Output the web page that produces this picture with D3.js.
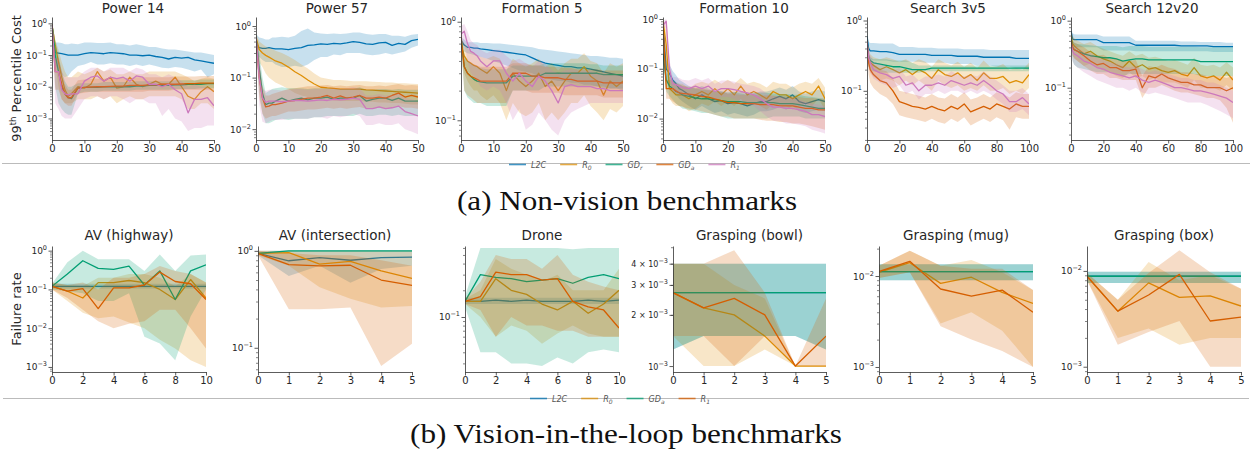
<!DOCTYPE html>
<html>
<head>
<meta charset="utf-8">
<script src="https://cdn.jsdelivr.net/npm/d3@7"></script>
<style>
  body { margin: 0; background: #fff; }
  svg { display: block; font-family: "DejaVu Sans", sans-serif; }
</style>
</head>
<body>
<div id="chart"></div>
<script>
// ---------- x grids ----------
const x50 = [0,1,2,3,4,5,6,8,10,12,14,16,18,20,22,24,26,28,30,32,34,36,38,40,42,44,46,48,50];
const x100 = [0,1,2,4,8,12,16,20,24,28,32,36,40,44,48,52,56,60,64,68,72,76,80,84,88,92,96,100];
const x10 = [0,1,2,3,4,5,6,7,8,9,10];
const x5 = [0,1,2,3,4,5];

// ---------- Power 14 ----------
const p14_l2c = [0.9,0.12,0.115,0.11,0.105,0.1,0.1,0.1,0.11,0.12,0.115,0.11,0.12,0.115,0.11,0.1,0.1,0.095,0.1,0.09,0.085,0.075,0.085,0.08,0.085,0.07,0.065,0.06,0.055];
const p14_l2c_lo = [0.7,0.05,0.03,0.025,0.02,0.022,0.03,0.045,0.05,0.06,0.05,0.05,0.055,0.05,0.05,0.045,0.05,0.045,0.05,0.045,0.04,0.038,0.042,0.04,0.035,0.03,0.035,0.02,0.025];
const p14_l2c_hi = [1.1,0.25,0.25,0.24,0.22,0.22,0.23,0.22,0.25,0.25,0.24,0.24,0.25,0.22,0.22,0.2,0.22,0.2,0.18,0.18,0.16,0.15,0.15,0.14,0.13,0.12,0.12,0.11,0.1];
const p14_r0 = [0.9,0.2,0.06,0.02,0.008,0.005,0.006,0.01,0.009,0.012,0.03,0.015,0.02,0.009,0.01,0.02,0.012,0.01,0.012,0.015,0.012,0.012,0.02,0.01,0.005,0.004,0.007,0.01,0.007];
const p14_r0_lo = [0.7,0.05,0.01,0.004,0.003,0.003,0.003,0.004,0.004,0.004,0.005,0.004,0.005,0.003,0.004,0.005,0.004,0.004,0.005,0.005,0.005,0.005,0.005,0.004,0.002,0.002,0.003,0.003,0.002];
const p14_r0_hi = [1.1,0.3,0.15,0.06,0.03,0.02,0.02,0.03,0.025,0.03,0.04,0.03,0.035,0.025,0.025,0.03,0.025,0.025,0.03,0.03,0.03,0.03,0.03,0.025,0.02,0.015,0.018,0.02,0.018];
const p14_gdr = [0.9,0.1,0.03,0.01,0.006,0.0045,0.0042,0.009,0.0095,0.0095,0.0095,0.01,0.01,0.01,0.01,0.01,0.0105,0.0105,0.011,0.011,0.011,0.011,0.0115,0.0115,0.012,0.012,0.012,0.0125,0.0125];
const p14_gdr_lo = [0.7,0.01,0.003,0.002,0.0015,0.0013,0.0013,0.006,0.007,0.007,0.007,0.0075,0.0075,0.0075,0.0075,0.0075,0.008,0.008,0.008,0.008,0.008,0.008,0.0085,0.0085,0.0085,0.0085,0.009,0.009,0.009];
const p14_gdr_hi = [1.1,0.3,0.1,0.03,0.015,0.01,0.01,0.013,0.013,0.013,0.013,0.014,0.014,0.014,0.014,0.014,0.015,0.015,0.015,0.015,0.015,0.015,0.016,0.016,0.016,0.016,0.017,0.017,0.017];
const p14_gda = [0.9,0.03,0.03,0.012,0.006,0.0045,0.0045,0.009,0.0095,0.0098,0.01,0.01,0.0103,0.0105,0.0105,0.011,0.011,0.011,0.0115,0.0115,0.012,0.012,0.012,0.0122,0.0125,0.0125,0.013,0.013,0.013];
const p14_gda_lo = [0.7,0.008,0.008,0.004,0.003,0.0025,0.0025,0.006,0.0065,0.007,0.007,0.007,0.007,0.007,0.007,0.007,0.007,0.007,0.0075,0.0075,0.0075,0.0075,0.008,0.008,0.008,0.008,0.008,0.008,0.008];
const p14_gda_hi = [1.1,0.08,0.08,0.03,0.012,0.008,0.008,0.016,0.017,0.018,0.018,0.018,0.019,0.019,0.019,0.019,0.02,0.02,0.02,0.02,0.02,0.02,0.021,0.021,0.021,0.021,0.022,0.022,0.022];
const p14_r1 = [0.9,0.03,0.03,0.008,0.006,0.0055,0.006,0.006,0.015,0.02,0.022,0.015,0.02,0.018,0.02,0.015,0.022,0.02,0.012,0.012,0.01,0.012,0.008,0.006,0.0015,0.004,0.004,0.0045,0.0025];
const p14_r1_lo = [0.7,0.003,0.002,0.0012,0.001,0.001,0.001,0.002,0.004,0.005,0.005,0.004,0.005,0.005,0.004,0.003,0.004,0.004,0.003,0.003,0.0012,0.002,0.001,0.0008,0.0004,0.0005,0.0005,0.0006,0.0006];
const p14_r1_hi = [1.1,0.08,0.08,0.03,0.02,0.02,0.02,0.02,0.03,0.04,0.04,0.03,0.04,0.04,0.04,0.03,0.04,0.035,0.025,0.025,0.02,0.025,0.02,0.015,0.01,0.012,0.01,0.01,0.008];

// ---------- Power 57 ----------
const p57_l2c = [0.45,0.38,0.37,0.37,0.38,0.37,0.36,0.36,0.35,0.37,0.38,0.42,0.43,0.45,0.44,0.46,0.45,0.47,0.5,0.48,0.45,0.44,0.47,0.48,0.42,0.46,0.44,0.52,0.55];
const p57_l2c_lo = [0.3,0.25,0.22,0.2,0.2,0.2,0.18,0.16,0.16,0.17,0.16,0.18,0.22,0.25,0.25,0.28,0.27,0.3,0.3,0.3,0.28,0.27,0.28,0.3,0.28,0.3,0.32,0.38,0.42];
const p57_l2c_hi = [0.7,0.6,0.58,0.55,0.55,0.6,0.6,0.62,0.6,0.65,0.8,0.9,0.75,0.72,0.7,0.72,0.7,0.72,0.75,0.75,0.7,0.68,0.7,0.7,0.65,0.65,0.62,0.68,0.7];
const p57_r0 = [0.6,0.35,0.3,0.27,0.25,0.23,0.21,0.19,0.16,0.13,0.11,0.09,0.075,0.065,0.063,0.062,0.06,0.06,0.06,0.06,0.058,0.057,0.056,0.055,0.054,0.053,0.052,0.051,0.05];
const p57_r0_lo = [0.5,0.2,0.16,0.12,0.1,0.09,0.08,0.07,0.06,0.05,0.045,0.042,0.04,0.038,0.038,0.036,0.035,0.035,0.035,0.035,0.034,0.034,0.033,0.033,0.032,0.032,0.031,0.03,0.03];
const p57_r0_hi = [0.7,0.5,0.45,0.4,0.38,0.36,0.33,0.3,0.26,0.22,0.18,0.15,0.12,0.1,0.095,0.09,0.09,0.088,0.085,0.085,0.085,0.083,0.082,0.08,0.08,0.078,0.078,0.076,0.075];
const p57_gdr = [0.6,0.15,0.05,0.03,0.032,0.032,0.035,0.04,0.035,0.038,0.04,0.037,0.04,0.04,0.042,0.038,0.04,0.04,0.04,0.045,0.035,0.038,0.04,0.04,0.036,0.04,0.035,0.035,0.035];
const p57_gdr_lo = [0.5,0.05,0.02,0.013,0.013,0.014,0.015,0.016,0.015,0.016,0.016,0.016,0.017,0.017,0.018,0.018,0.018,0.018,0.018,0.02,0.018,0.018,0.019,0.019,0.018,0.019,0.018,0.018,0.018];
const p57_gdr_hi = [0.7,0.3,0.1,0.05,0.055,0.06,0.062,0.065,0.062,0.062,0.062,0.06,0.062,0.062,0.062,0.06,0.06,0.06,0.06,0.065,0.058,0.058,0.06,0.06,0.058,0.06,0.058,0.058,0.058];
const p57_gda = [0.6,0.1,0.04,0.027,0.028,0.03,0.03,0.032,0.035,0.036,0.038,0.04,0.04,0.042,0.045,0.04,0.044,0.04,0.042,0.045,0.04,0.04,0.042,0.04,0.045,0.05,0.042,0.045,0.042];
const p57_gda_lo = [0.5,0.04,0.02,0.016,0.017,0.018,0.018,0.02,0.022,0.022,0.023,0.024,0.024,0.025,0.026,0.025,0.026,0.025,0.026,0.027,0.025,0.025,0.026,0.025,0.026,0.028,0.026,0.026,0.025];
const p57_gda_hi = [0.7,0.2,0.07,0.045,0.045,0.048,0.05,0.055,0.06,0.062,0.065,0.068,0.068,0.07,0.072,0.068,0.07,0.068,0.07,0.072,0.068,0.068,0.07,0.068,0.072,0.075,0.07,0.072,0.07];
const p57_r1 = [0.6,0.1,0.04,0.033,0.035,0.035,0.035,0.034,0.035,0.036,0.036,0.035,0.036,0.037,0.036,0.038,0.037,0.038,0.04,0.038,0.025,0.025,0.027,0.025,0.026,0.028,0.022,0.02,0.018];
const p57_r1_lo = [0.5,0.03,0.014,0.013,0.014,0.015,0.015,0.015,0.016,0.016,0.016,0.016,0.017,0.017,0.016,0.018,0.017,0.018,0.02,0.018,0.012,0.012,0.013,0.012,0.012,0.013,0.01,0.009,0.008];
const p57_r1_hi = [0.7,0.25,0.06,0.055,0.058,0.058,0.058,0.056,0.058,0.06,0.06,0.058,0.06,0.06,0.06,0.062,0.06,0.062,0.065,0.062,0.045,0.045,0.048,0.045,0.046,0.05,0.04,0.038,0.035];

// ---------- Formation 5 ----------
const f5_l2c = [0.65,0.58,0.55,0.55,0.54,0.54,0.53,0.52,0.51,0.5,0.49,0.48,0.47,0.46,0.43,0.4,0.38,0.37,0.36,0.35,0.35,0.34,0.34,0.33,0.32,0.31,0.3,0.29,0.28];
const f5_l2c_lo = [0.6,0.5,0.48,0.47,0.46,0.45,0.44,0.42,0.4,0.38,0.36,0.34,0.32,0.31,0.3,0.28,0.27,0.26,0.25,0.25,0.24,0.24,0.23,0.23,0.22,0.22,0.21,0.21,0.2];
const f5_l2c_hi = [0.7,0.66,0.62,0.62,0.62,0.62,0.61,0.61,0.6,0.6,0.59,0.58,0.57,0.56,0.55,0.53,0.52,0.51,0.5,0.49,0.48,0.47,0.46,0.45,0.45,0.44,0.43,0.43,0.42];
const f5_r0 = [0.6,0.45,0.4,0.38,0.36,0.35,0.33,0.3,0.35,0.3,0.2,0.3,0.25,0.22,0.25,0.3,0.22,0.25,0.2,0.25,0.3,0.3,0.35,0.28,0.25,0.18,0.25,0.22,0.25];
const f5_r0_lo = [0.5,0.3,0.25,0.22,0.2,0.2,0.18,0.16,0.18,0.15,0.1,0.15,0.12,0.11,0.12,0.15,0.1,0.12,0.1,0.12,0.15,0.15,0.18,0.14,0.12,0.1,0.13,0.12,0.14];
const f5_r0_hi = [0.7,0.6,0.55,0.5,0.48,0.46,0.44,0.42,0.45,0.42,0.32,0.42,0.38,0.35,0.38,0.42,0.35,0.38,0.32,0.38,0.42,0.42,0.48,0.4,0.38,0.3,0.38,0.35,0.38];
const f5_gdr = [0.7,0.35,0.3,0.28,0.26,0.25,0.245,0.24,0.24,0.24,0.24,0.28,0.28,0.28,0.28,0.28,0.3,0.3,0.3,0.3,0.3,0.3,0.3,0.3,0.3,0.29,0.29,0.29,0.29];
const f5_gdr_lo = [0.6,0.2,0.17,0.16,0.15,0.15,0.15,0.14,0.14,0.14,0.14,0.2,0.2,0.2,0.2,0.2,0.22,0.22,0.22,0.22,0.22,0.22,0.22,0.22,0.22,0.21,0.21,0.21,0.21];
const f5_gdr_hi = [0.8,0.45,0.4,0.38,0.36,0.35,0.34,0.33,0.33,0.33,0.33,0.36,0.36,0.36,0.36,0.36,0.38,0.38,0.38,0.38,0.38,0.38,0.38,0.37,0.37,0.36,0.36,0.36,0.36];
const f5_gda = [0.7,0.35,0.3,0.28,0.27,0.26,0.25,0.25,0.25,0.25,0.25,0.3,0.3,0.3,0.28,0.28,0.27,0.27,0.27,0.26,0.26,0.25,0.25,0.25,0.25,0.24,0.24,0.24,0.24];
const f5_gda_lo = [0.6,0.2,0.18,0.17,0.16,0.15,0.15,0.15,0.15,0.15,0.15,0.2,0.2,0.2,0.19,0.19,0.19,0.19,0.19,0.18,0.18,0.18,0.18,0.18,0.18,0.17,0.17,0.17,0.17];
const f5_gda_hi = [0.8,0.45,0.4,0.38,0.37,0.36,0.35,0.35,0.35,0.35,0.35,0.38,0.38,0.38,0.36,0.36,0.35,0.35,0.35,0.34,0.34,0.33,0.33,0.33,0.33,0.32,0.32,0.32,0.32];
const f5_r1 = [0.75,0.8,0.6,0.5,0.48,0.45,0.4,0.35,0.4,0.4,0.3,0.25,0.3,0.25,0.22,0.28,0.25,0.2,0.15,0.22,0.23,0.22,0.22,0.22,0.21,0.21,0.2,0.2,0.2];
const f5_r1_lo = [0.6,0.6,0.4,0.3,0.28,0.25,0.22,0.2,0.22,0.2,0.15,0.1,0.13,0.08,0.09,0.12,0.1,0.08,0.07,0.1,0.12,0.13,0.14,0.15,0.15,0.15,0.15,0.15,0.15];
const f5_r1_hi = [0.9,0.95,0.8,0.65,0.6,0.58,0.52,0.48,0.52,0.52,0.45,0.4,0.42,0.38,0.35,0.4,0.38,0.32,0.3,0.32,0.33,0.32,0.32,0.32,0.3,0.3,0.29,0.29,0.28];

// ---------- Formation 10 ----------
const f10_l2c = [0.8,0.1,0.08,0.06,0.05,0.04,0.037,0.03,0.025,0.03,0.025,0.022,0.023,0.02,0.021,0.02,0.018,0.02,0.022,0.022,0.025,0.028,0.025,0.03,0.022,0.02,0.022,0.024,0.022];
const f10_l2c_lo = [0.6,0.06,0.05,0.04,0.03,0.025,0.022,0.018,0.015,0.018,0.015,0.013,0.014,0.012,0.013,0.012,0.011,0.012,0.014,0.014,0.015,0.017,0.015,0.018,0.014,0.013,0.014,0.015,0.014];
const f10_l2c_hi = [1.0,0.15,0.12,0.09,0.075,0.06,0.055,0.045,0.04,0.045,0.04,0.035,0.036,0.032,0.034,0.032,0.03,0.032,0.035,0.035,0.038,0.042,0.038,0.045,0.035,0.032,0.035,0.038,0.035];
const f10_r0 = [0.9,0.3,0.04,0.035,0.03,0.03,0.03,0.025,0.03,0.035,0.03,0.04,0.03,0.04,0.03,0.045,0.03,0.035,0.03,0.025,0.035,0.03,0.03,0.025,0.03,0.035,0.03,0.045,0.025];
const f10_r0_lo = [0.7,0.1,0.025,0.02,0.018,0.018,0.018,0.014,0.016,0.02,0.018,0.022,0.018,0.022,0.018,0.025,0.018,0.02,0.018,0.015,0.02,0.018,0.018,0.015,0.018,0.02,0.018,0.025,0.015];
const f10_r0_hi = [1.0,0.6,0.07,0.055,0.05,0.05,0.05,0.04,0.05,0.055,0.05,0.06,0.05,0.06,0.05,0.065,0.05,0.055,0.05,0.042,0.055,0.05,0.05,0.042,0.05,0.055,0.05,0.065,0.042];
const f10_gdr = [0.2,0.06,0.045,0.04,0.035,0.033,0.03,0.028,0.026,0.025,0.025,0.024,0.023,0.022,0.022,0.022,0.021,0.021,0.021,0.021,0.021,0.02,0.02,0.02,0.019,0.018,0.017,0.016,0.016];
const f10_gdr_lo = [0.15,0.035,0.028,0.024,0.02,0.018,0.016,0.015,0.014,0.013,0.013,0.012,0.011,0.01,0.01,0.01,0.01,0.01,0.01,0.01,0.011,0.011,0.011,0.011,0.011,0.01,0.01,0.01,0.01];
const f10_gdr_hi = [0.3,0.09,0.07,0.06,0.055,0.05,0.045,0.042,0.04,0.038,0.037,0.036,0.035,0.034,0.034,0.034,0.033,0.033,0.033,0.033,0.032,0.031,0.031,0.03,0.03,0.028,0.027,0.026,0.025];
const f10_gda = [0.8,0.04,0.04,0.04,0.036,0.033,0.032,0.031,0.03,0.028,0.027,0.025,0.023,0.021,0.021,0.02,0.02,0.02,0.019,0.019,0.019,0.018,0.018,0.018,0.017,0.016,0.016,0.015,0.015];
const f10_gda_lo = [0.6,0.025,0.025,0.022,0.02,0.018,0.017,0.016,0.015,0.014,0.013,0.012,0.011,0.011,0.01,0.01,0.01,0.01,0.0095,0.009,0.009,0.0085,0.0085,0.008,0.008,0.0075,0.007,0.0065,0.006];
const f10_gda_hi = [1.0,0.06,0.06,0.058,0.052,0.048,0.046,0.044,0.042,0.04,0.038,0.036,0.034,0.032,0.031,0.03,0.03,0.03,0.029,0.029,0.029,0.028,0.028,0.028,0.027,0.026,0.026,0.025,0.025];
const f10_r1 = [0.75,0.9,0.1,0.05,0.048,0.045,0.042,0.04,0.045,0.04,0.045,0.035,0.04,0.04,0.038,0.035,0.033,0.03,0.025,0.02,0.017,0.017,0.016,0.016,0.015,0.014,0.012,0.012,0.011];
const f10_r1_lo = [0.6,0.7,0.06,0.035,0.033,0.03,0.028,0.027,0.03,0.027,0.03,0.024,0.027,0.027,0.025,0.022,0.02,0.018,0.014,0.011,0.009,0.009,0.008,0.008,0.0075,0.007,0.006,0.0055,0.005];
const f10_r1_hi = [0.9,1.0,0.15,0.07,0.068,0.065,0.06,0.058,0.065,0.058,0.065,0.05,0.058,0.058,0.055,0.05,0.048,0.045,0.04,0.032,0.028,0.028,0.026,0.026,0.024,0.022,0.02,0.019,0.018];

// ---------- Search 3v5 ----------
const s3_l2c = [0.6,0.4,0.37,0.37,0.36,0.36,0.35,0.33,0.33,0.33,0.33,0.33,0.32,0.32,0.32,0.32,0.31,0.31,0.31,0.31,0.3,0.3,0.3,0.3,0.3,0.29,0.29,0.29];
const s3_l2c_lo = [0.5,0.3,0.28,0.27,0.27,0.27,0.26,0.26,0.26,0.26,0.26,0.25,0.25,0.25,0.25,0.24,0.24,0.24,0.24,0.23,0.23,0.23,0.22,0.22,0.22,0.21,0.21,0.2];
const s3_l2c_hi = [0.75,0.5,0.48,0.48,0.47,0.47,0.47,0.42,0.42,0.42,0.41,0.41,0.41,0.4,0.4,0.4,0.4,0.39,0.39,0.39,0.39,0.38,0.38,0.38,0.38,0.38,0.38,0.38];
const s3_r0 = [0.5,0.3,0.25,0.23,0.2,0.22,0.2,0.18,0.2,0.17,0.2,0.18,0.15,0.2,0.17,0.16,0.18,0.15,0.17,0.14,0.18,0.15,0.15,0.16,0.13,0.14,0.13,0.17];
const s3_r0_lo = [0.45,0.22,0.18,0.16,0.14,0.15,0.14,0.12,0.14,0.12,0.14,0.12,0.1,0.14,0.12,0.11,0.12,0.1,0.11,0.1,0.12,0.1,0.1,0.11,0.09,0.1,0.09,0.11];
const s3_r0_hi = [0.6,0.4,0.33,0.3,0.28,0.3,0.28,0.26,0.28,0.25,0.28,0.26,0.22,0.28,0.25,0.23,0.26,0.22,0.25,0.21,0.27,0.22,0.22,0.24,0.2,0.21,0.2,0.25];
const s3_gdr = [0.5,0.3,0.27,0.25,0.24,0.23,0.22,0.22,0.21,0.2,0.2,0.2,0.21,0.21,0.21,0.21,0.21,0.21,0.21,0.21,0.21,0.21,0.21,0.21,0.21,0.21,0.21,0.21];
const s3_gdr_lo = [0.45,0.22,0.2,0.19,0.18,0.18,0.18,0.18,0.18,0.18,0.18,0.19,0.19,0.19,0.19,0.19,0.19,0.19,0.19,0.19,0.19,0.19,0.19,0.19,0.19,0.19,0.19,0.19];
const s3_gdr_hi = [0.6,0.35,0.3,0.28,0.28,0.28,0.27,0.27,0.27,0.25,0.23,0.23,0.23,0.23,0.23,0.23,0.23,0.23,0.23,0.23,0.23,0.23,0.23,0.23,0.23,0.23,0.23,0.23];
const s3_gda = [0.5,0.25,0.2,0.17,0.14,0.13,0.1,0.07,0.065,0.06,0.058,0.055,0.06,0.055,0.052,0.06,0.055,0.065,0.05,0.055,0.06,0.055,0.065,0.06,0.055,0.065,0.06,0.06];
const s3_gda_lo = [0.45,0.17,0.13,0.11,0.09,0.08,0.065,0.045,0.042,0.04,0.038,0.036,0.04,0.036,0.034,0.04,0.036,0.042,0.032,0.036,0.04,0.036,0.042,0.038,0.028,0.042,0.04,0.04];
const s3_gda_hi = [0.6,0.35,0.28,0.24,0.2,0.19,0.15,0.1,0.095,0.09,0.085,0.08,0.09,0.08,0.078,0.09,0.08,0.095,0.075,0.08,0.09,0.08,0.095,0.09,0.08,0.095,0.09,0.09];
const s3_r1 = [0.5,0.3,0.25,0.2,0.18,0.17,0.15,0.16,0.12,0.13,0.1,0.12,0.12,0.13,0.12,0.14,0.13,0.12,0.13,0.12,0.14,0.12,0.1,0.09,0.07,0.07,0.08,0.065];
const s3_r1_lo = [0.45,0.22,0.18,0.15,0.13,0.12,0.11,0.12,0.09,0.1,0.075,0.09,0.09,0.1,0.09,0.1,0.1,0.09,0.1,0.09,0.1,0.09,0.075,0.065,0.05,0.05,0.055,0.045];
const s3_r1_hi = [0.6,0.38,0.32,0.26,0.24,0.22,0.2,0.21,0.16,0.17,0.14,0.16,0.16,0.17,0.16,0.19,0.17,0.16,0.17,0.16,0.19,0.16,0.14,0.12,0.1,0.1,0.11,0.09];

// ---------- Search 12v20 ----------
const s12_l2c = [0.7,0.53,0.52,0.52,0.52,0.52,0.52,0.47,0.47,0.47,0.47,0.47,0.43,0.43,0.43,0.43,0.43,0.43,0.43,0.42,0.42,0.42,0.42,0.42,0.41,0.41,0.41,0.41];
const s12_l2c_lo = [0.6,0.42,0.4,0.4,0.4,0.4,0.4,0.36,0.36,0.36,0.36,0.36,0.35,0.35,0.35,0.35,0.35,0.35,0.35,0.35,0.35,0.35,0.35,0.35,0.34,0.34,0.34,0.34];
const s12_l2c_hi = [0.8,0.65,0.63,0.62,0.62,0.62,0.62,0.58,0.58,0.58,0.58,0.58,0.5,0.5,0.5,0.5,0.5,0.5,0.5,0.49,0.49,0.49,0.48,0.48,0.48,0.48,0.47,0.47];
const s12_r0 = [0.6,0.45,0.42,0.38,0.32,0.35,0.3,0.27,0.25,0.22,0.2,0.25,0.2,0.22,0.19,0.2,0.18,0.17,0.18,0.16,0.15,0.2,0.15,0.14,0.15,0.13,0.17,0.13];
const s12_r0_lo = [0.5,0.3,0.28,0.25,0.21,0.23,0.2,0.18,0.17,0.15,0.14,0.17,0.14,0.15,0.13,0.14,0.12,0.12,0.12,0.11,0.1,0.13,0.1,0.1,0.1,0.09,0.11,0.09];
const s12_r0_hi = [0.7,0.6,0.55,0.5,0.45,0.48,0.42,0.38,0.35,0.32,0.3,0.35,0.3,0.32,0.28,0.29,0.27,0.25,0.26,0.24,0.22,0.28,0.22,0.21,0.22,0.2,0.24,0.2];
const s12_gdr = [0.55,0.4,0.37,0.35,0.32,0.3,0.29,0.28,0.28,0.27,0.25,0.26,0.27,0.27,0.26,0.26,0.26,0.26,0.26,0.26,0.26,0.26,0.245,0.245,0.245,0.245,0.245,0.245];
const s12_gdr_lo = [0.45,0.25,0.22,0.2,0.19,0.18,0.17,0.17,0.17,0.16,0.15,0.16,0.16,0.16,0.16,0.16,0.16,0.16,0.16,0.16,0.16,0.16,0.15,0.15,0.15,0.15,0.15,0.15];
const s12_gdr_hi = [0.65,0.5,0.47,0.45,0.44,0.43,0.42,0.42,0.42,0.42,0.4,0.42,0.42,0.42,0.41,0.41,0.41,0.41,0.41,0.41,0.41,0.41,0.4,0.4,0.4,0.4,0.4,0.4];
const s12_gda = [0.5,0.4,0.37,0.35,0.3,0.25,0.22,0.23,0.2,0.2,0.18,0.18,0.19,0.1,0.15,0.14,0.16,0.14,0.13,0.12,0.12,0.11,0.11,0.1,0.1,0.1,0.09,0.1];
const s12_gda_lo = [0.45,0.3,0.27,0.25,0.21,0.18,0.16,0.16,0.14,0.14,0.13,0.13,0.13,0.07,0.1,0.1,0.11,0.1,0.09,0.085,0.085,0.08,0.075,0.07,0.07,0.065,0.05,0.03];
const s12_gda_hi = [0.6,0.5,0.47,0.45,0.4,0.34,0.3,0.31,0.27,0.27,0.25,0.25,0.26,0.15,0.21,0.2,0.22,0.2,0.19,0.17,0.17,0.16,0.16,0.15,0.15,0.15,0.14,0.15];
const s12_r1 = [0.45,0.35,0.32,0.3,0.25,0.23,0.2,0.19,0.17,0.16,0.15,0.14,0.15,0.13,0.12,0.13,0.12,0.11,0.1,0.1,0.095,0.09,0.09,0.085,0.08,0.075,0.07,0.06];
const s12_r1_lo = [0.4,0.25,0.22,0.2,0.17,0.15,0.13,0.12,0.11,0.1,0.1,0.09,0.1,0.085,0.08,0.085,0.08,0.075,0.07,0.065,0.06,0.06,0.06,0.055,0.05,0.045,0.04,0.035];
const s12_r1_hi = [0.55,0.45,0.42,0.4,0.34,0.32,0.28,0.26,0.24,0.23,0.21,0.2,0.21,0.19,0.17,0.18,0.17,0.16,0.15,0.14,0.14,0.13,0.13,0.12,0.12,0.11,0.1,0.09];

// ---------- AV (highway) ----------
const avh_l2c = [0.12,0.12,0.12,0.12,0.12,0.12,0.12,0.12,0.12,0.12,0.12];
const avh_l2c_lo = [0.105,0.105,0.105,0.105,0.105,0.105,0.105,0.105,0.105,0.105,0.105];
const avh_l2c_hi = [0.14,0.14,0.14,0.14,0.14,0.14,0.14,0.14,0.14,0.14,0.14];
const avh_r0 = [0.12,0.09,0.06,0.15,0.15,0.17,0.15,0.1,0.055,0.18,0.06];
const avh_r0_lo = [0.1,0.05,0.025,0.018,0.02,0.014,0.01,0.005,0.003,0.0015,0.001];
const avh_r0_hi = [0.15,0.13,0.12,0.2,0.2,0.25,0.25,0.2,0.12,0.25,0.15];
const avh_gda = [0.12,0.25,0.55,0.35,0.33,0.4,0.13,0.3,0.055,0.3,0.43];
const avh_gda_lo = [0.1,0.09,0.08,0.05,0.05,0.08,0.006,0.004,0.0015,0.02,0.1];
const avh_gda_hi = [0.14,0.5,1.0,0.6,0.6,0.6,0.3,0.8,0.3,0.75,0.8];
const avh_r1 = [0.12,0.09,0.105,0.032,0.11,0.11,0.13,0.28,0.16,0.14,0.055];
const avh_r1_lo = [0.1,0.06,0.03,0.015,0.01,0.013,0.015,0.03,0.03,0.01,0.003];
const avh_r1_hi = [0.15,0.13,0.15,0.1,0.2,0.2,0.25,0.4,0.3,0.25,0.15];

// ---------- AV (intersection) ----------
const avi_l2c = [0.94,0.79,0.85,0.8,0.85,0.86];
const avi_l2c_lo = [0.9,0.55,0.7,0.47,0.65,0.7];
const avi_l2c_hi = [1,1,1,1,1,1];
const avi_r0 = [0.94,0.96,0.73,0.78,0.62,0.52];
const avi_r0_lo = [0.9,0.7,0.42,0.32,0.26,0.27];
const avi_r0_hi = [1,1,1,1,1,1];
const avi_gda = [0.94,1,1,1,1,1];
const avi_gda_lo = [0.92,0.98,0.98,0.98,0.98,0.98];
const avi_gda_hi = [0.96,1,1,1,1,1];
const avi_r1 = [0.94,0.72,0.7,0.71,0.5,0.44];
const avi_r1_lo = [0.9,0.25,0.25,0.26,0.065,0.11];
const avi_r1_hi = [1,0.95,0.9,0.9,0.8,0.7];

// ---------- Drone ----------
const dr_l2c = [0.15,0.15,0.155,0.15,0.155,0.15,0.15,0.15,0.155,0.15,0.155];
const dr_l2c_lo = [0.14,0.14,0.14,0.14,0.14,0.14,0.14,0.14,0.14,0.14,0.14];
const dr_l2c_hi = [0.165,0.165,0.165,0.165,0.165,0.165,0.165,0.165,0.165,0.165,0.165];
const dr_r0 = [0.15,0.15,0.27,0.2,0.18,0.14,0.12,0.15,0.11,0.14,0.2];
const dr_r0_lo = [0.14,0.1,0.06,0.08,0.07,0.05,0.065,0.08,0.065,0.06,0.06];
const dr_r0_hi = [0.16,0.2,0.45,0.35,0.3,0.25,0.3,0.2,0.2,0.2,0.35];
const dr_gda = [0.15,0.3,0.28,0.27,0.25,0.26,0.27,0.24,0.28,0.3,0.27];
const dr_gda_lo = [0.13,0.04,0.04,0.03,0.03,0.028,0.035,0.03,0.04,0.043,0.04];
const dr_gda_hi = [0.17,0.6,0.6,0.6,0.6,0.6,0.6,0.58,0.6,0.6,0.6];
const dr_r1 = [0.15,0.17,0.32,0.3,0.3,0.26,0.27,0.15,0.13,0.12,0.075];
const dr_r1_lo = [0.14,0.12,0.06,0.1,0.08,0.08,0.07,0.07,0.06,0.06,0.06];
const dr_r1_hi = [0.16,0.25,0.5,0.45,0.45,0.35,0.5,0.3,0.25,0.22,0.2];

// ---------- Grasping (bowl) ----------
const gb_l2c = [0.0027,0.0027,0.0027,0.0027,0.0027,0.0027];
const gb_l2c_lo = [0.00125,0.0015,0.0015,0.0015,0.0015,0.00125];
const gb_l2c_hi = [0.004,0.004,0.004,0.004,0.004,0.004];
const gb_r0 = [0.0027,0.0022,0.002,0.0015,0.001,0.001];
const gb_r0_lo = [0.0015,0.001,0.001,0.00125,0.001,0.001];
const gb_r0_hi = [0.004,0.004,0.003,0.0025,0.001,0.001];
const gb_gda = [0.0027,0.0027,0.0027,0.0027,0.0027,0.0027];
const gb_gda_lo = [0.00125,0.0015,0.0015,0.0015,0.0015,0.00125];
const gb_gda_hi = [0.004,0.004,0.004,0.004,0.004,0.004];
const gb_r1 = [0.0027,0.0022,0.0025,0.002,0.001,0.0015];
const gb_r1_lo = [0.0015,0.0015,0.001,0.0015,0.001,0.001];
const gb_r1_hi = [0.004,0.004,0.0048,0.0027,0.001,0.0025];

// ---------- Grasping (mug) ----------
const gm_l2c = [0.0112,0.0112,0.0112,0.0112,0.0112,0.0112];
const gm_l2c_lo = [0.009,0.009,0.009,0.009,0.009,0.009];
const gm_l2c_hi = [0.0135,0.0135,0.0135,0.0135,0.0135,0.0135];
const gm_r0 = [0.011,0.014,0.0083,0.0097,0.0066,0.005];
const gm_r0_lo = [0.0095,0.011,0.003,0.004,0.0025,0.001];
const gm_r0_hi = [0.013,0.019,0.013,0.015,0.011,0.007];
const gm_gda = [0.0112,0.0112,0.0112,0.0112,0.0112,0.0112];
const gm_gda_lo = [0.009,0.009,0.009,0.009,0.009,0.009];
const gm_gda_hi = [0.0135,0.0135,0.0135,0.0135,0.0135,0.0135];
const gm_r1 = [0.0112,0.0145,0.0072,0.006,0.007,0.004];
const gm_r1_lo = [0.0095,0.011,0.0028,0.002,0.0015,0.001];
const gm_r1_hi = [0.013,0.019,0.013,0.012,0.012,0.007];

// ---------- Grasping (box) ----------
const gx_l2c = [0.0088,0.0088,0.0088,0.0088,0.0088,0.0088];
const gx_l2c_lo = [0.0075,0.0075,0.0075,0.0075,0.0075,0.0075];
const gx_l2c_hi = [0.0098,0.0098,0.0098,0.0098,0.0098,0.0098];
const gx_r0 = [0.0088,0.0038,0.0075,0.0053,0.0055,0.0043];
const gx_r0_lo = [0.008,0.002,0.0025,0.0017,0.002,0.002];
const gx_r0_hi = [0.0095,0.005,0.0124,0.008,0.009,0.0065];
const gx_gda = [0.0088,0.0088,0.0088,0.0088,0.0088,0.0088];
const gx_gda_lo = [0.0075,0.0075,0.0075,0.0075,0.0075,0.0075];
const gx_gda_hi = [0.0098,0.0098,0.0098,0.0098,0.0098,0.0098];
const gx_r1 = [0.0088,0.0038,0.0056,0.0092,0.003,0.0033];
const gx_r1_lo = [0.008,0.0017,0.0023,0.003,0.001,0.001];
const gx_r1_hi = [0.0095,0.005,0.0095,0.0164,0.0097,0.0065];

// ---------- legends ----------
const legendTop = [["L2C", ""], ["R", "0"], ["GD", "r"], ["GD", "a"], ["R", "1"]];
const legendBottom = [["L2C", ""], ["R", "0"], ["GD", "a"], ["R", "1"]];

// colours (seaborn colorblind)
const cBlue = "#0173b2", cOrange = "#de8f05", cGreen = "#029e73", cRed = "#d55e00", cPink = "#cc78bc";
const topColors = [cBlue, cOrange, cGreen, cRed, cPink];
const botColors = [cBlue, cOrange, cGreen, cRed];

const svg = d3.select("#chart").append("svg")
  .attr("width", 1253).attr("height", 452);

const TW = 162, TH = 123, TT = 17;
const BW = 153, BH = 126, BT = 246;

function ser(m, lo, hi) { return {m: m, lo: lo, hi: hi}; }

const panels = [
  {title: "Power 14", left: 52, top: TT, w: TW, h: TH, x: x50, xmax: 50, xticks: [0,10,20,30,40,50],
   ydom: [Math.pow(10,-3.68), Math.pow(10,0.2)], colors: topColors, ylabel: "top",
   s: [ser(p14_l2c,p14_l2c_lo,p14_l2c_hi), ser(p14_r0,p14_r0_lo,p14_r0_hi), ser(p14_gdr,p14_gdr_lo,p14_gdr_hi), ser(p14_gda,p14_gda_lo,p14_gda_hi), ser(p14_r1,p14_r1_lo,p14_r1_hi)]},
  {title: "Power 57", left: 256, top: TT, w: TW, h: TH, x: x50, xmax: 50, xticks: [0,10,20,30,40,50],
   ydom: [Math.pow(10,-2.21), Math.pow(10,0.175)], colors: topColors,
   s: [ser(p57_l2c,p57_l2c_lo,p57_l2c_hi), ser(p57_r0,p57_r0_lo,p57_r0_hi), ser(p57_gdr,p57_gdr_lo,p57_gdr_hi), ser(p57_gda,p57_gda_lo,p57_gda_hi), ser(p57_r1,p57_r1_lo,p57_r1_hi)]},
  {title: "Formation 5", left: 461, top: TT, w: TW, h: TH, x: x50, xmax: 50, xticks: [0,10,20,30,40,50],
   ydom: [Math.pow(10,-1.2), Math.pow(10,0.048)], colors: topColors,
   s: [ser(f5_l2c,f5_l2c_lo,f5_l2c_hi), ser(f5_r0,f5_r0_lo,f5_r0_hi), ser(f5_gdr,f5_gdr_lo,f5_gdr_hi), ser(f5_gda,f5_gda_lo,f5_gda_hi), ser(f5_r1,f5_r1_lo,f5_r1_hi)]},
  {title: "Formation 10", left: 663, top: TT, w: TW, h: TH, x: x50, xmax: 50, xticks: [0,10,20,30,40,50],
   ydom: [Math.pow(10,-2.43), Math.pow(10,0.04)], colors: topColors,
   s: [ser(f10_l2c,f10_l2c_lo,f10_l2c_hi), ser(f10_r0,f10_r0_lo,f10_r0_hi), ser(f10_gdr,f10_gdr_lo,f10_gdr_hi), ser(f10_gda,f10_gda_lo,f10_gda_hi), ser(f10_r1,f10_r1_lo,f10_r1_hi)]},
  {title: "Search 3v5", left: 867, top: TT, w: TW, h: TH, x: x100, xmax: 100, xticks: [0,20,40,60,80,100],
   ydom: [Math.pow(10,-1.70), Math.pow(10,0.05)], colors: topColors,
   s: [ser(s3_l2c,s3_l2c_lo,s3_l2c_hi), ser(s3_r0,s3_r0_lo,s3_r0_hi), ser(s3_gdr,s3_gdr_lo,s3_gdr_hi), ser(s3_gda,s3_gda_lo,s3_gda_hi), ser(s3_r1,s3_r1_lo,s3_r1_hi)]},
  {title: "Search 12v20", left: 1071, top: TT, w: TW, h: TH, x: x100, xmax: 100, xticks: [0,20,40,60,80,100],
   ydom: [Math.pow(10,-1.78), Math.pow(10,0.055)], colors: topColors,
   s: [ser(s12_l2c,s12_l2c_lo,s12_l2c_hi), ser(s12_r0,s12_r0_lo,s12_r0_hi), ser(s12_gdr,s12_gdr_lo,s12_gdr_hi), ser(s12_gda,s12_gda_lo,s12_gda_hi), ser(s12_r1,s12_r1_lo,s12_r1_hi)]},

  {title: "AV (highway)", left: 52, top: BT, w: BW + 1, h: BH, x: x10, xmax: 10, xticks: [0,2,4,6,8,10],
   ydom: [Math.pow(10,-3.13), Math.pow(10,0.12)], colors: botColors, ylabel: "bottom",
   s: [ser(avh_l2c,avh_l2c_lo,avh_l2c_hi), ser(avh_r0,avh_r0_lo,avh_r0_hi), ser(avh_gda,avh_gda_lo,avh_gda_hi), ser(avh_r1,avh_r1_lo,avh_r1_hi)]},
  {title: "AV (intersection)", left: 258, top: BT, w: BW + 1, h: BH, x: x5, xmax: 5, xticks: [0,1,2,3,4,5],
   ydom: [Math.pow(10,-1.25), Math.pow(10,0.05)], colors: botColors,
   s: [ser(avi_l2c,avi_l2c_lo,avi_l2c_hi), ser(avi_r0,avi_r0_lo,avi_r0_hi), ser(avi_gda,avi_gda_lo,avi_gda_hi), ser(avi_r1,avi_r1_lo,avi_r1_hi)]},
  {title: "Drone", left: 465, top: BT, w: BW + 1, h: BH, x: x10, xmax: 10, xticks: [0,2,4,6,8,10],
   ydom: [Math.pow(10,-1.62), Math.pow(10,-0.2)], colors: botColors,
   s: [ser(dr_l2c,dr_l2c_lo,dr_l2c_hi), ser(dr_r0,dr_r0_lo,dr_r0_hi), ser(dr_gda,dr_gda_lo,dr_gda_hi), ser(dr_r1,dr_r1_lo,dr_r1_hi)]},
  {title: "Grasping (bowl)", left: 673, top: BT, w: BW, h: BH, x: x5, xmax: 5, xticks: [0,1,2,3,4,5],
   ydom: [Math.pow(10,-3.035), Math.pow(10,-2.294)], colors: botColors,
   yticks: [[0.001, "10", "−3"], [0.002, "2 × 10", "−3"], [0.003, "3 × 10", "−3"], [0.004, "4 × 10", "−3"]],
   s: [ser(gb_l2c,gb_l2c_lo,gb_l2c_hi), ser(gb_r0,gb_r0_lo,gb_r0_hi), ser(gb_gda,gb_gda_lo,gb_gda_hi), ser(gb_r1,gb_r1_lo,gb_r1_hi)]},
  {title: "Grasping (mug)", left: 879, top: BT, w: BW + 1, h: BH, x: x5, xmax: 5, xticks: [0,1,2,3,4,5],
   ydom: [Math.pow(10,-3.055), Math.pow(10,-1.67)], colors: botColors,
   s: [ser(gm_l2c,gm_l2c_lo,gm_l2c_hi), ser(gm_r0,gm_r0_lo,gm_r0_hi), ser(gm_gda,gm_gda_lo,gm_gda_hi), ser(gm_r1,gm_r1_lo,gm_r1_hi)]},
  {title: "Grasping (box)", left: 1087, top: BT, w: BW + 1, h: BH, x: x5, xmax: 5, xticks: [0,1,2,3,4,5],
   ydom: [Math.pow(10,-3.055), Math.pow(10,-1.74)], colors: botColors,
   s: [ser(gx_l2c,gx_l2c_lo,gx_l2c_hi), ser(gx_r0,gx_r0_lo,gx_r0_hi), ser(gx_gda,gx_gda_lo,gx_gda_hi), ser(gx_r1,gx_r1_lo,gx_r1_hi)]}
];

const axisCol = "#333", textCol = "#262626";

function supText(sel, base, sup, size) {
  sel.text(null);
  sel.append("tspan").text(base);
  sel.append("tspan").attr("dy", -4).attr("font-size", size).text(sup);
}

panels.forEach((p, pi) => {
  const g = svg.append("g").attr("transform", `translate(${p.left},${p.top})`);
  const x = d3.scaleLinear().domain([0, p.xmax]).range([0, p.w]);
  const y = d3.scaleLog().domain(p.ydom).range([p.h, 0]);

  g.append("clipPath").attr("id", "clip" + pi)
    .append("rect").attr("width", p.w).attr("height", p.h);
  const plot = g.append("g").attr("clip-path", `url(#clip${pi})`);

  // fill then line for each series, like fill_between + plot
  p.s.forEach((s, si) => {
    const rows = p.x.map((xv, i) => ({x: xv, m: s.m[i], lo: s.lo[i], hi: s.hi[i]}));
    plot.append("path").datum(rows)
      .attr("fill", p.colors[si]).attr("fill-opacity", 0.22).attr("stroke", "none")
      .attr("d", d3.area().x(d => x(d.x)).y0(d => y(d.lo)).y1(d => y(d.hi)));
    plot.append("path").datum(rows)
      .attr("fill", "none").attr("stroke", p.colors[si]).attr("stroke-width", 1.3)
      .attr("stroke-linejoin", "round")
      .attr("d", d3.line().x(d => x(d.x)).y(d => y(d.m)));
  });

  // x axis
  const xa = g.append("g").attr("transform", `translate(0,${p.h})`)
    .call(d3.axisBottom(x).tickValues(p.xticks).tickFormat(d3.format("d")).tickSize(3.5).tickSizeOuter(0));
  xa.select(".domain").attr("stroke", axisCol).attr("stroke-width", 0.8);
  xa.selectAll(".tick line").attr("stroke", axisCol).attr("stroke-width", 0.8);
  xa.selectAll(".tick text").attr("fill", textCol).attr("font-size", 10)
    .attr("font-family", "DejaVu Sans").attr("dy", "0.71em").attr("y", 5);

  // y axis: majors, minors
  const lo = Math.log10(p.ydom[0]), hi = Math.log10(p.ydom[1]);
  let majors = [], minors = [];
  for (let k = Math.floor(lo); k <= Math.ceil(hi); k++) {
    const v = Math.pow(10, k);
    if (v >= p.ydom[0] && v <= p.ydom[1]) majors.push(v);
    for (let m = 2; m <= 9; m++) {
      const mv = m * Math.pow(10, k);
      if (mv >= p.ydom[0] && mv <= p.ydom[1]) minors.push(mv);
    }
  }
  const ya = g.append("g")
    .call(d3.axisLeft(y).tickValues(minors).tickFormat("").tickSize(2).tickSizeOuter(0));
  ya.select(".domain").attr("stroke", axisCol).attr("stroke-width", 0.8);
  ya.selectAll(".tick line").attr("stroke", axisCol).attr("stroke-width", 0.6);

  let labels;
  if (p.yticks) {
    labels = p.yticks;
  } else {
    labels = majors.map(v => [v, "10", (Math.round(Math.log10(v)) === 0 ? "0" : "−" + (-Math.round(Math.log10(v))))]);
  }
  const yl = g.append("g")
    .call(d3.axisLeft(y).tickValues(labels.map(d => d[0])).tickFormat("").tickSize(3.5).tickSizeOuter(0));
  yl.select(".domain").remove();
  yl.selectAll(".tick line").attr("stroke", axisCol).attr("stroke-width", 0.8);
  labels.forEach(l => {
    const t = g.append("text").attr("x", -5).attr("y", y(l[0]) + 3.5)
      .attr("text-anchor", "end").attr("fill", textCol)
      .attr("font-size", p.yticks ? 8 : 9);
    supText(t, l[1], l[2], 6.5);
  });

  // title
  g.append("text").attr("x", p.w / 2).attr("y", p.top < 100 ? -4 : -6)
    .attr("text-anchor", "middle").attr("font-size", 13.5).attr("fill", textCol)
    .text(p.title);

  if (p.ylabel === "top") {
    const t = svg.append("text").attr("transform", `translate(21,${p.top + p.h / 2}) rotate(-90)`)
      .attr("text-anchor", "middle").attr("font-size", 13).attr("fill", textCol);
    t.append("tspan").text("99");
    t.append("tspan").attr("dy", -5).attr("font-size", 8.5).text("th");
    t.append("tspan").attr("dy", 5).text(" Percentile Cost");
  }
  if (p.ylabel === "bottom") {
    svg.append("text").attr("transform", `translate(21,${p.top + p.h / 2}) rotate(-90)`)
      .attr("text-anchor", "middle").attr("font-size", 13).attr("fill", textCol)
      .text("Failure rate");
  }
});

// separators
svg.append("line").attr("x1", 2).attr("x2", 1250).attr("y1", 163.5).attr("y2", 163.5)
  .attr("stroke", "#bbb").attr("stroke-width", 1);
svg.append("line").attr("x1", 3).attr("x2", 1249).attr("y1", 398.5).attr("y2", 398.5)
  .attr("stroke", "#bbb").attr("stroke-width", 1);

// legends
function drawLegend(items, colors, startX, yPos, gap) {
  let cx = startX;
  items.forEach((it, i) => {
    svg.append("line").attr("x1", cx).attr("x2", cx + 17).attr("y1", yPos).attr("y2", yPos)
      .attr("stroke", colors[i]).attr("stroke-width", 1.6).attr("stroke-opacity", 0.75);
    const t = svg.append("text").attr("x", cx + 22).attr("y", yPos + 3)
      .attr("font-size", 8).attr("font-style", "italic").attr("fill", "#555");
    t.append("tspan").text(it[0]);
    if (it[1]) t.append("tspan").attr("dy", 2).attr("font-size", 6).text(it[1]);
    cx = cx + 22 + t.node().getComputedTextLength() + gap;
  });
}
drawLegend(legendTop, topColors, 509, 164.5, 14);
drawLegend(legendBottom, botColors, 530, 398.5, 14);

// captions
svg.append("text").attr("x", 627).attr("y", 210).attr("text-anchor", "middle")
  .attr("font-family", "Liberation Serif, serif").attr("font-size", 27).attr("fill", "#111")
  .attr("textLength", 340).attr("lengthAdjust", "spacingAndGlyphs")
  .text("(a) Non-vision benchmarks");
svg.append("text").attr("x", 626).attr("y", 443).attr("text-anchor", "middle")
  .attr("font-family", "Liberation Serif, serif").attr("font-size", 27).attr("fill", "#111")
  .attr("textLength", 432).attr("lengthAdjust", "spacingAndGlyphs")
  .text("(b) Vision-in-the-loop benchmarks");
</script>
</body>
</html>
